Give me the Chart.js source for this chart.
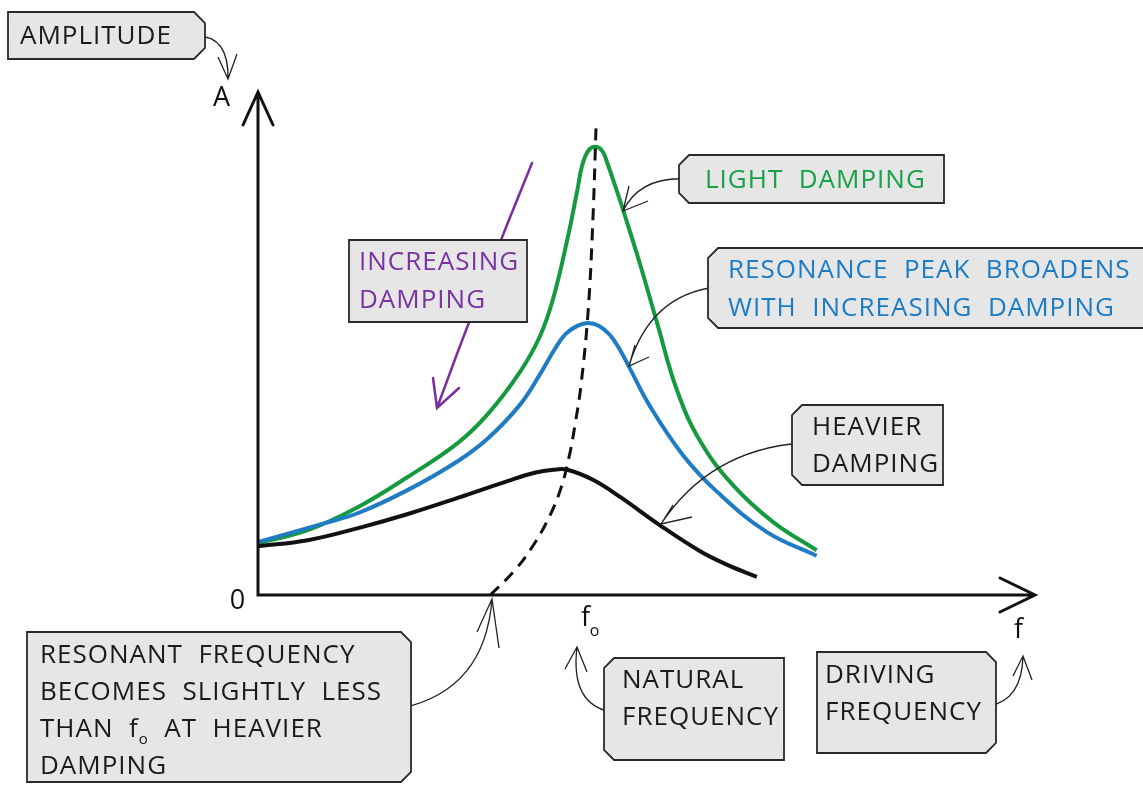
<!DOCTYPE html>
<html>
<head>
<meta charset="utf-8">
<script src="https://cdn.jsdelivr.net/npm/chart.js@4.4.0/dist/chart.umd.min.js"></script>
<style>
  html, body { margin: 0; padding: 0; background: #fff; }
  canvas { display: block; }
</style>
</head>
<body>
<canvas id="resonance" width="1143" height="785"></canvas>
<script>
// amplitude curves, x = driving frequency, y = amplitude (arbitrary units 0-100)
const lightDamping = [
  { x: 0, y: 10.3 }, { x: 6.4, y: 12.9 }, { x: 12.9, y: 17.5 }, { x: 19.3, y: 23.5 },
  { x: 25.7, y: 30.2 }, { x: 29.6, y: 36.0 }, { x: 33.7, y: 44.3 }, { x: 36.3, y: 51.5 },
  { x: 38.0, y: 59.0 }, { x: 39.8, y: 70.6 }, { x: 41.1, y: 80.5 }, { x: 41.7, y: 85.3 },
  { x: 42.5, y: 88.3 }, { x: 43.4, y: 89.1 }, { x: 44.3, y: 88.3 }, { x: 45.0, y: 85.7 },
  { x: 45.8, y: 82.1 }, { x: 47.0, y: 76.5 }, { x: 49.2, y: 65.6 }, { x: 51.4, y: 53.9 },
  { x: 53.9, y: 40.8 }, { x: 56.9, y: 30.6 }, { x: 61.1, y: 21.9 }, { x: 66.3, y: 14.5 },
  { x: 71.9, y: 8.9 }
];
const mediumDamping = [
  { x: 0, y: 10.5 }, { x: 8.6, y: 14.3 }, { x: 12.9, y: 16.3 }, { x: 19.3, y: 20.9 },
  { x: 25.7, y: 26.6 }, { x: 29.5, y: 31.0 }, { x: 33.7, y: 37.8 }, { x: 36.3, y: 43.9 },
  { x: 38.2, y: 48.9 }, { x: 39.6, y: 51.9 }, { x: 41.1, y: 53.5 }, { x: 42.5, y: 54.1 },
  { x: 43.9, y: 53.5 }, { x: 45.3, y: 51.7 }, { x: 46.6, y: 48.7 }, { x: 47.9, y: 44.9 },
  { x: 50.5, y: 37.4 }, { x: 54.7, y: 27.8 }, { x: 59.1, y: 20.5 }, { x: 65.5, y: 12.5 },
  { x: 71.9, y: 7.8 }
];
const heavyDamping = [
  { x: 0, y: 9.7 }, { x: 6.4, y: 10.9 }, { x: 12.9, y: 13.3 }, { x: 19.3, y: 16.1 },
  { x: 25.7, y: 19.3 }, { x: 32.2, y: 22.7 }, { x: 35.6, y: 24.3 }, { x: 38.0, y: 24.9 },
  { x: 39.8, y: 24.9 }, { x: 43.1, y: 22.9 }, { x: 46.6, y: 19.5 }, { x: 51.7, y: 13.9 },
  { x: 56.9, y: 8.7 }, { x: 60.4, y: 6.0 }, { x: 64.2, y: 3.6 }
];
// locus of the resonance peaks
const peakLocus = [
  { x: 29.9, y: 0 }, { x: 33.1, y: 5.0 }, { x: 35.6, y: 10.3 }, { x: 37.6, y: 15.9 },
  { x: 39.0, y: 21.3 }, { x: 40.0, y: 27.2 }, { x: 40.8, y: 33.8 }, { x: 41.6, y: 42.1 },
  { x: 42.5, y: 56.7 }, { x: 43.1, y: 74.6 }, { x: 43.5, y: 92.8 }
];

const FONT = '"Open Sans", "Noto Sans", sans-serif';

function tag(ctx, x, y, w, h, side, c) {
  ctx.beginPath();
  if (side === "right") {
    ctx.moveTo(x, y); ctx.lineTo(x + w - c, y); ctx.lineTo(x + w, y + c);
    ctx.lineTo(x + w, y + h - c); ctx.lineTo(x + w - c, y + h); ctx.lineTo(x, y + h);
  } else if (side === "left") {
    ctx.moveTo(x + c, y); ctx.lineTo(x + w, y); ctx.lineTo(x + w, y + h);
    ctx.lineTo(x + c, y + h); ctx.lineTo(x, y + h - c); ctx.lineTo(x, y + c);
  } else {
    ctx.rect(x, y, w, h);
  }
  ctx.closePath();
  ctx.fillStyle = "#e6e6e6";
  ctx.fill();
  ctx.lineWidth = 1.8;
  ctx.strokeStyle = "#2a2a2a";
  ctx.stroke();
}

function callout(ctx, from, ctrl, to, arm1, arm2) {
  ctx.strokeStyle = "#222";
  ctx.lineWidth = 1.3;
  ctx.beginPath();
  ctx.moveTo(from[0], from[1]);
  ctx.quadraticCurveTo(ctrl[0], ctrl[1], to[0], to[1]);
  ctx.moveTo(arm1[0], arm1[1]); ctx.lineTo(to[0], to[1]); ctx.lineTo(arm2[0], arm2[1]);
  ctx.stroke();
  ctx.beginPath();
  ctx.arc(from[0], from[1], 3.5, 0, Math.PI * 2);
  ctx.fillStyle = "#e6e6e6";
  ctx.fill();
  ctx.lineWidth = 1.5;
  ctx.stroke();
}

function setFont(ctx, size) {
  ctx.font = size + "px " + FONT;
  ctx.letterSpacing = "1px";
}

function lines(ctx, arr, x, y0, dy, color) {
  ctx.fillStyle = color;
  setFont(ctx, 26);
  ctx.textAlign = "left";
  ctx.textBaseline = "middle";
  arr.forEach((t, i) => ctx.fillText(t, x, y0 + i * dy));
}

const annotations = {
  id: "annotations",
  afterDraw(chart) {
    const ctx = chart.ctx;
    const a = chart.chartArea;
    ctx.save();

    // axes with arrowheads
    ctx.strokeStyle = "#111";
    ctx.lineWidth = 3;
    ctx.lineCap = "round";
    ctx.beginPath();
    ctx.moveTo(a.left, a.top); ctx.lineTo(a.left, a.bottom); ctx.lineTo(a.right, a.bottom);
    ctx.moveTo(a.left - 15, a.top + 33); ctx.lineTo(a.left, a.top); ctx.lineTo(a.left + 15, a.top + 33);
    ctx.moveTo(a.right - 35, a.bottom - 17); ctx.lineTo(a.right, a.bottom); ctx.lineTo(a.right - 35, a.bottom + 17);
    ctx.stroke();

    // axis letters
    ctx.fillStyle = "#111";
    setFont(ctx, 27);
    ctx.textAlign = "center";
    ctx.textBaseline = "middle";
    ctx.fillText("A", 222, 98);
    ctx.fillText("0", 238, 601);
    ctx.fillText("f", 1019, 630);
    ctx.fillText("f", 586, 618);
    setFont(ctx, 16);
    ctx.fillText("o", 595, 631);

    // purple "increasing damping" arrow
    ctx.strokeStyle = "#7b2d9b";
    ctx.lineWidth = 2.5;
    ctx.beginPath();
    ctx.moveTo(532, 163); ctx.quadraticCurveTo(480, 290, 437, 408);
    ctx.moveTo(433, 378); ctx.lineTo(437, 408); ctx.lineTo(459, 388);
    ctx.stroke();
    ctx.lineCap = "butt";

    // callouts
    callout(ctx, [197, 36], [229, 36], [228, 79], [218, 57], [237, 54]);
    callout(ctx, [688, 179], [640, 176], [623, 211], [629, 186], [648, 201]);
    callout(ctx, [716, 287], [650, 295], [629, 366], [635, 345], [649, 357]);
    callout(ctx, [801, 443], [710, 450], [661, 524], [673, 505], [692, 517]);
    callout(ctx, [402, 708], [485, 690], [492, 599], [477, 632], [499, 648]);
    callout(ctx, [612, 712], [570, 705], [577, 647], [565, 669], [587, 672]);
    callout(ctx, [989, 706], [1022, 700], [1023, 656], [1013, 676], [1032, 680]);

    // label boxes
    tag(ctx, 8, 12, 197, 47, "right", 11);
    lines(ctx, ["AMPLITUDE"], 20, 37, 0, "#1a1a1a");

    tag(ctx, 349, 240, 178, 82, "none", 0);
    lines(ctx, ["INCREASING", "DAMPING"], 359, 263, 38, "#7a32a0");

    tag(ctx, 679, 155, 265, 48, "left", 10);
    lines(ctx, ["LIGHT  DAMPING"], 705, 181, 0, "#17a046");

    tag(ctx, 708, 248, 450, 80, "left", 10);
    lines(ctx, ["RESONANCE  PEAK  BROADENS", "WITH  INCREASING  DAMPING"], 728, 271, 38, "#1b7bc4");

    tag(ctx, 792, 405, 151, 80, "left", 10);
    lines(ctx, ["HEAVIER", "DAMPING"], 812, 428, 37, "#1a1a1a");

    tag(ctx, 27, 632, 384, 150, "right", 10);
    lines(ctx, ["RESONANT  FREQUENCY", "BECOMES  SLIGHTLY  LESS"], 40, 656, 37, "#1a1a1a");
    lines(ctx, ["DAMPING"], 40, 767, 0, "#1a1a1a");
    setFont(ctx, 26);
    ctx.fillText("THAN  f", 40, 730);
    let w = ctx.measureText("THAN  f").width;
    setFont(ctx, 15);
    ctx.fillText("o", 40 + w, 740);
    w += ctx.measureText("o").width;
    setFont(ctx, 26);
    ctx.fillText("  AT  HEAVIER", 40 + w, 730);

    tag(ctx, 604, 658, 180, 102, "left", 10);
    lines(ctx, ["NATURAL", "FREQUENCY"], 622, 681, 37, "#1a1a1a");

    tag(ctx, 817, 652, 179, 101, "right", 10);
    lines(ctx, ["DRIVING", "FREQUENCY"], 825, 676, 37, "#1a1a1a");

    ctx.restore();
  }
};

const curve = (label, data, color, extra) => Object.assign({
  label, data, borderColor: color, borderWidth: 4, pointRadius: 0,
  tension: 0.4, fill: false
}, extra || {});

new Chart(document.getElementById("resonance"), {
  type: "line",
  data: {
    datasets: [
      curve("peak locus", peakLocus, "#111", { borderWidth: 3, borderDash: [12, 8] }),
      curve("heavier damping", heavyDamping, "#111"),
      curve("medium damping", mediumDamping, "#1f7cc4"),
      curve("light damping", lightDamping, "#159a3e")
    ]
  },
  options: {
    responsive: false,
    animation: false,
    layout: { padding: { left: 258, right: 108, top: 92, bottom: 190 } },
    plugins: { legend: { display: false }, tooltip: { enabled: false } },
    scales: {
      x: { type: "linear", min: 0, max: 100, display: false },
      y: { type: "linear", min: 0, max: 100, display: false }
    }
  },
  plugins: [annotations]
});
</script>
</body>
</html>
